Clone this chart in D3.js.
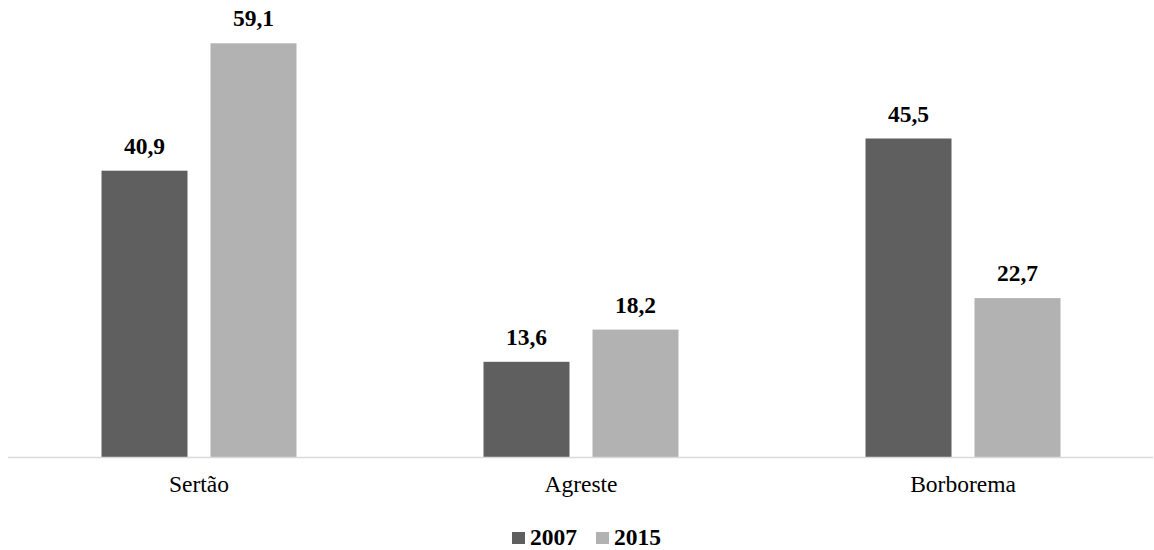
<!DOCTYPE html>
<html>
<head>
<meta charset="utf-8">
<script src="https://cdn.jsdelivr.net/npm/d3@7"></script>
<style>
  html, body { margin: 0; padding: 0; background: #fff; }
  svg text { font-family: "Liberation Serif", "Times New Roman", serif; }
</style>
</head>
<body>
<svg id="chart" width="1154" height="550"></svg>
<script>
// Regions and the share recorded for each survey year
const regions = ["Sertão", "Agreste", "Borborema"];
const years = ["2007", "2015"];
const values2007 = [40.9, 13.6, 45.5];
const values2015 = [59.1, 18.2, 22.7];
const yearColors = ["#5f5f5f", "#b2b2b2"];

const seriesValues = [values2007, values2015];
const rows = regions.map((r, i) => ({
  region: r,
  vals: years.map((yr, j) => ({ year: yr, value: seriesValues[j][i], color: yearColors[j] }))
}));

const svg = d3.select("#chart");
const fmt = v => d3.format(".1f")(v).replace(".", ",");
const fontSize = 23.5;

const x0 = d3.scaleBand().domain(regions).range([8, 1154]).padding(0);
const x1 = d3.scaleBand().domain(years).range([0, x0.bandwidth()])
  .paddingInner(0.211).paddingOuter(0.858);
const y = d3.scaleLinear().domain([0, 65]).range([457, 2]);

const groups = svg.append("g").selectAll("g").data(rows).join("g")
  .attr("transform", d => `translate(${x0(d.region)},0)`);

groups.selectAll("rect").data(d => d.vals).join("rect")
  .attr("x", d => x1(d.year))
  .attr("y", d => y(d.value))
  .attr("width", x1.bandwidth())
  .attr("height", d => y(0) - y(d.value))
  .attr("fill", d => d.color);

groups.selectAll("text.val").data(d => d.vals).join("text")
  .attr("class", "val")
  .attr("x", d => x1(d.year) + x1.bandwidth() / 2)
  .attr("y", d => y(d.value) - 17)
  .attr("text-anchor", "middle")
  .attr("font-weight", "bold")
  .attr("font-size", fontSize)
  .attr("fill", "#000")
  .text(d => fmt(d.value));

// Category axis along the baseline
const xAxis = svg.append("g").attr("transform", `translate(0,${y(0)})`)
  .call(d3.axisBottom(x0).tickSize(0).tickPadding(0));
xAxis.attr("font-family", null);
xAxis.select(".domain").attr("stroke", "#d9d9d9").attr("stroke-width", 1.5)
  .attr("d", "M8,0.5H1153");
xAxis.selectAll(".tick text")
  .attr("dy", 0).attr("y", 35)
  .attr("font-size", fontSize).attr("fill", "#000");

// Legend
const legendItems = [
  { label: years[0], color: yearColors[0], x: 512 },
  { label: years[1], color: yearColors[1], x: 596 }
];
const legend = svg.append("g");
const li = legend.selectAll("g").data(legendItems).join("g")
  .attr("transform", d => `translate(${d.x},0)`);
li.append("rect").attr("x", 0).attr("y", 532).attr("width", 13).attr("height", 12)
  .attr("fill", d => d.color);
li.append("text").attr("x", 18).attr("y", 545)
  .attr("font-weight", "bold").attr("font-size", fontSize).attr("fill", "#000")
  .text(d => d.label);
</script>
</body>
</html>
